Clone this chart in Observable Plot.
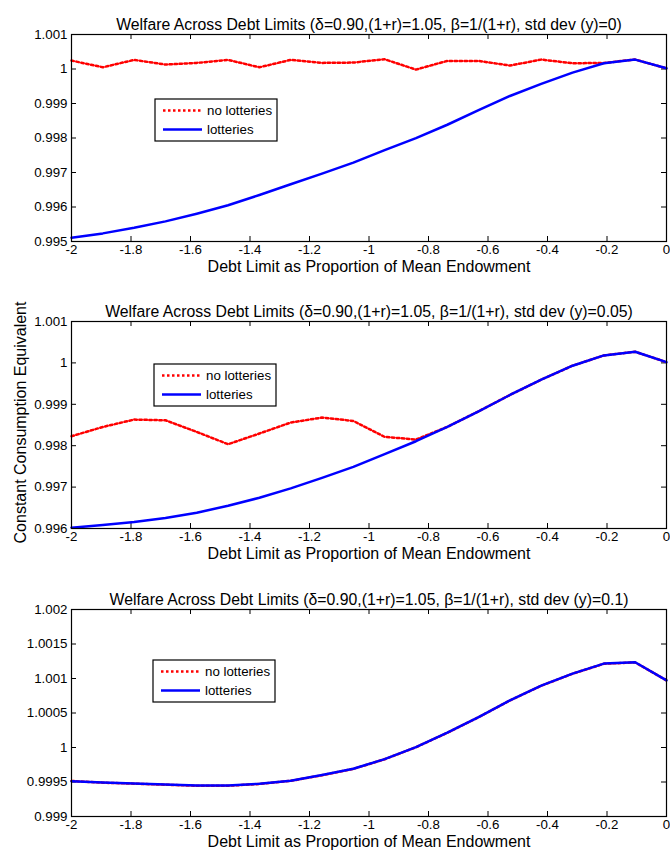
<!DOCTYPE html>
<html><head><meta charset="utf-8">
<script src="https://cdn.jsdelivr.net/npm/d3@7"></script>
<script src="https://cdn.jsdelivr.net/npm/@observablehq/plot@0.6"></script>
<style>
body{margin:0;background:#fff;}
#chart{position:relative;width:670px;height:857px;background:#fff;}
#chart svg{position:absolute;left:0;}
</style></head><body><div id="chart"></div>
<script>
const FONT = '"Liberation Sans", Arial, Helvetica, sans-serif';

const debtLimits = [-2, -1.8947, -1.7895, -1.6842, -1.5789, -1.4737, -1.3684, -1.2632, -1.1579, -1.0526,
  -0.9474, -0.8421, -0.7368, -0.6316, -0.5263, -0.4211, -0.3158, -0.2105, -0.1053, 0];

const titles = [
  "Welfare Across Debt Limits (δ=0.90,(1+r)=1.05, β=1/(1+r), std dev (y)=0)",
  "Welfare Across Debt Limits (δ=0.90,(1+r)=1.05, β=1/(1+r), std dev (y)=0.05)",
  "Welfare Across Debt Limits (δ=0.90,(1+r)=1.05, β=1/(1+r), std dev (y)=0.1)"
];
const xLabel = "Debt Limit as Proportion of Mean Endowment";
const yLabel = "Constant Consumption Equivalent";
const seriesNames = ["no lotteries", "lotteries"];

// std dev 0
const noLotteries0 = [1.000244, 1.000050, 1.000264, 1.000128, 1.000177, 1.000264, 1.000050, 1.000264, 1.000177, 1.000186,
  1.000282, 0.999983, 1.000235, 1.000235, 1.000099, 1.000273, 1.000166, 1.000177, 1.000273, 1.000020];
const lotteries0 = [0.995108, 0.995235, 0.995398, 0.995584, 0.995806, 0.996049, 0.996349, 0.996660, 0.996968, 0.997288,
  0.997648, 0.997997, 0.998384, 0.998811, 0.999218, 0.999567, 0.999895, 1.000166, 1.000273, 1.000020];
// std dev 0.05
const noLotteries1 = [0.998229, 0.998453, 0.998631, 0.998614, 0.998333, 0.998036, 0.998294, 0.998559, 0.998679, 0.998598,
  0.998213, 0.998149, 0.998454, 0.998831, 0.999225, 0.999594, 0.999932, 1.000181, 1.000269, 1.000019];
const lotteries1 = [0.996020, 0.996084, 0.996157, 0.996253, 0.996381, 0.996550, 0.996743, 0.996968, 0.997224, 0.997490,
  0.997795, 0.998108, 0.998454, 0.998831, 0.999225, 0.999594, 0.999932, 1.000181, 1.000269, 1.000019];
// std dev 0.1
const noLotteries2 = [0.999515, 0.999490, 0.999476, 0.999460, 0.999446, 0.999446, 0.999471, 0.999516, 0.999598, 0.999690,
  0.999830, 1.000004, 1.000213, 1.000439, 1.000682, 1.000895, 1.001069, 1.001214, 1.001233, 1.000972];
const lotteries2 = [0.999512, 0.999493, 0.999479, 0.999464, 0.999450, 0.999450, 0.999474, 0.999518, 0.999600, 0.999692,
  0.999832, 1.000006, 1.000215, 1.000441, 1.000684, 1.000897, 1.001071, 1.001216, 1.001235, 1.000974];

const xTicks = [-2, -1.8, -1.6, -1.4, -1.2, -1, -0.8, -0.6, -0.4, -0.2, 0];
const xTickLabels = ["-2", "-1.8", "-1.6", "-1.4", "-1.2", "-1", "-0.8", "-0.6", "-0.4", "-0.2", "0"];

const yTicks0 = [0.995, 0.996, 0.997, 0.998, 0.999, 1, 1.001];
const yTickLabels0 = ["0.995", "0.996", "0.997", "0.998", "0.999", "1", "1.001"];
const yTicks1 = [0.996, 0.997, 0.998, 0.999, 1, 1.001];
const yTickLabels1 = ["0.996", "0.997", "0.998", "0.999", "1", "1.001"];
const yTicks2 = [0.999, 0.9995, 1, 1.0005, 1.001, 1.0015, 1.002];
const yTickLabels2 = ["0.999", "0.9995", "1", "1.0005", "1.001", "1.0015", "1.002"];

const panels = [
  {nl: noLotteries0, l: lotteries0, yt: yTicks0, yl: yTickLabels0, top: 0, leg: [155, 99]},
  {nl: noLotteries1, l: lotteries1, yt: yTicks1, yl: yTickLabels1, top: 287, leg: [154, 77]},
  {nl: noLotteries2, l: lotteries2, yt: yTicks2, yl: yTickLabels2, top: 575, leg: [153, 85]}
];

function lookup(ticks, labels) {
  return d => {
    const i = ticks.findIndex(t => Math.abs(t - d) < 1e-9);
    return i >= 0 ? labels[i] : "";
  };
}

const W = 670, H = 287, MT = 34, MB = 46, ML = 71, MR = 4;
const FH = H - MT - MB, FW = W - ML - MR;
const RED = "#ff0000", BLUE = "#0000ff", DASH = "2.5,2.5";

const chart = document.getElementById("chart");

panels.forEach((p, i) => {
  const data = debtLimits.map((x, j) => ({x, nl: p.nl[j], l: p.l[j]}));
  const svg = Plot.plot({
    width: W, height: H,
    marginTop: MT, marginBottom: MB, marginLeft: ML, marginRight: MR,
    style: {fontFamily: FONT, fontSize: "13.3px", color: "black", background: "white", overflow: "visible"},
    x: {domain: [-2, 0]},
    y: {domain: [p.yt[0], p.yt[p.yt.length - 1]]},
    marks: [
      Plot.axisX(xTicks, {tickSize: 0, tickPadding: 3, tickFormat: lookup(xTicks, xTickLabels), label: null}),
      Plot.axisY(p.yt, {tickSize: 0, tickPadding: 4, tickFormat: lookup(p.yt, p.yl), label: null}),
      Plot.tickX(xTicks, {x: d => d, insetTop: FH - 5, stroke: "black"}),
      Plot.tickX(xTicks, {x: d => d, insetBottom: FH - 5, stroke: "black"}),
      Plot.tickY(p.yt, {y: d => d, insetRight: FW - 5, stroke: "black"}),
      Plot.tickY(p.yt, {y: d => d, insetLeft: FW - 5, stroke: "black"}),
      Plot.line(data, {x: "x", y: "nl", stroke: RED, strokeWidth: 2.5, strokeDasharray: DASH}),
      Plot.line(data, {x: "x", y: "l", stroke: BLUE, strokeWidth: 2.5}),
      Plot.frame({stroke: "black", strokeWidth: 1.2}),
      Plot.text([titles[i]], {frameAnchor: "top", dy: -16, fontSize: 15.8, fill: "black"}),
      Plot.text([xLabel], {frameAnchor: "bottom", dy: 30, fontSize: 16, fill: "black"})
    ]
  });
  svg.style.top = p.top + "px";
  chart.appendChild(svg);

  const s = d3.select(svg);
  // legend
  const [lx, ly] = p.leg;
  const g = s.append("g");
  g.append("rect").attr("x", lx).attr("y", ly).attr("width", 122).attr("height", 42)
    .attr("fill", "white").attr("stroke", "black").attr("stroke-width", 1.2);
  const rows = [{name: seriesNames[0], color: RED, dash: DASH}, {name: seriesNames[1], color: BLUE, dash: null}];
  rows.forEach((r, k) => {
    const yy = ly + 11.5 + k * 19;
    g.append("line").attr("x1", lx + 8).attr("x2", lx + 47).attr("y1", yy).attr("y2", yy)
      .attr("stroke", r.color).attr("stroke-width", 2.5).attr("stroke-dasharray", r.dash);
    g.append("text").attr("x", lx + 52).attr("y", yy).attr("dy", "0.35em")
      .attr("text-anchor", "start")
      .style("font-family", FONT).style("font-size", "13.3px")
      .attr("fill", "black").text(r.name);
  });
  if (i === 1) {
    s.append("text")
      .attr("transform", `translate(20.5,${MT + FH / 2 - 2}) rotate(-90)`)
      .attr("text-anchor", "middle").attr("dy", "0.35em")
      .style("font-family", FONT).style("font-size", "16px").attr("fill", "black")
      .text(yLabel);
  }
});
</script>
</body></html>
